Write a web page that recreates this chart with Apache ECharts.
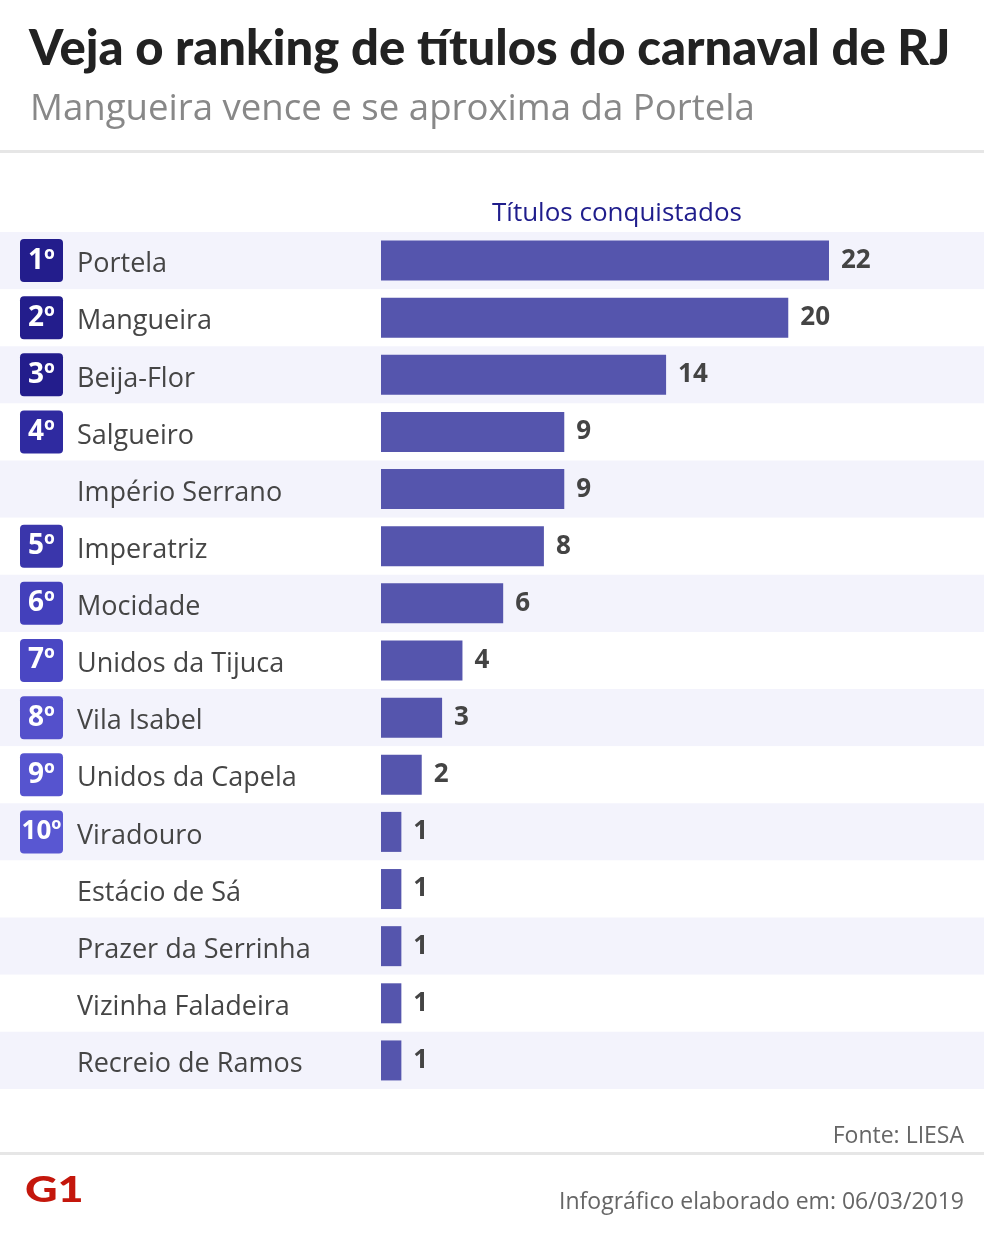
<!DOCTYPE html>
<html><head><meta charset="utf-8">
<script src="https://cdn.jsdelivr.net/npm/echarts@6/dist/echarts.min.js"></script>
<style>html,body{margin:0;padding:0;background:#fff}#c{width:984px;height:1245px}</style>
</head><body><div id="c"></div>
<script>
const schools = ["Portela","Mangueira","Beija-Flor","Salgueiro","Império Serrano","Imperatriz","Mocidade","Unidos da Tijuca","Vila Isabel","Unidos da Capela","Viradouro","Estácio de Sá","Prazer da Serrinha","Vizinha Faladeira","Recreio de Ramos"];
const ranks = ["1º","2º","3º","4º","","5º","6º","7º","8º","9º","10º","","","",""];
const titles = [22,20,14,9,9,8,6,4,3,2,1,1,1,1,1];
const badgeColors = ["#231d8c","#231d8c","#231d8c","#2f2aa0","","#3a36ab","#4340bb","#4a47c3","#5450cb","#5654cf","#5957d2","","","",""];

const FONT = "'Open Sans', 'Noto Sans', sans-serif";
const rich = {
  empty: {width: 43, height: 43},
  name: {fontFamily: FONT, fontSize: 27, color: '#454545', padding: [8,0,0,14]}
};
badgeColors.forEach((c,i)=>{
  if (c) rich['b'+i] = {backgroundColor: c, width: 43, height: 43, lineHeight: 43, borderRadius: 4,
    align: 'center', color: '#fff', fontFamily: FONT, fontWeight: 'bold', fontSize: ranks[i].length>2?26:28};
});

const chart = echarts.init(document.getElementById('c'), null, {renderer:'canvas'});
const gridTop = 232, gridBottom = 1245 - 1089;
const unit = (829 - 381) / 22;
const xMax = 26;
const gridRight = 984 - 381 - xMax*unit;

chart.setOption({
  animation: false,
  backgroundColor: '#fff',
  title: [
    {text: 'Veja o ranking de títulos do carnaval de RJ', left: 24, top: 20,
     textStyle: {fontFamily: "Lato, sans-serif", fontWeight: 900, fontSize: 49, color: '#222'}},
    {text: 'Mangueira vence e se aproxima da Portela', left: 25, top: 86,
     textStyle: {fontFamily: FONT, fontWeight: 'normal', fontSize: 36.6, color: '#888'}},
    {text: 'Títulos conquistados', left: 612, top: 196, textAlign: 'center',
     textStyle: {fontFamily: FONT, fontWeight: 'normal', fontSize: 26, color: '#1f1d8c'}},
    {text: 'Fonte: LIESA', right: 15, top: 1120,
     textStyle: {fontFamily: FONT, fontWeight: 'normal', fontSize: 23, color: '#666'}},
    {text: 'Infográfico elaborado em: 06/03/2019', right: 15, top: 1186,
     textStyle: {fontFamily: FONT, fontWeight: 'normal', fontSize: 23, color: '#666'}}
  ],
  graphic: [
    {type: 'rect', shape: {x: 0, y: 150, width: 984, height: 3}, style: {fill: '#e6e6e6'}},
    {type: 'rect', shape: {x: 0, y: 1152, width: 984, height: 3}, style: {fill: '#e6e6e6'}},
    {type: 'text', left: 25, top: 1172, scaleX: 1.25,
     style: {text: 'G1', fill: '#c4170c', font: "900 36px Lato, sans-serif"}}
  ],
  grid: [
    {left: 0, right: 0, top: gridTop, bottom: gridBottom},
    {left: 381, right: gridRight, top: gridTop, bottom: gridBottom}
  ],
  xAxis: [
    {gridIndex: 0, type: 'value', min: 0, max: 1, show: false},
    {gridIndex: 1, type: 'value', min: 0, max: xMax, show: false}
  ],
  yAxis: [
    {gridIndex: 0, type: 'category', data: schools, inverse: true,
     axisLine: {show: false}, axisTick: {show: false}, axisLabel: {show: false},
     splitLine: {show: false},
     splitArea: {show: true, areaStyle: {color: ['#f3f3fc', '#ffffff']}}},
    {gridIndex: 1, type: 'category', data: schools, inverse: true,
     axisLine: {show: false}, axisTick: {show: false},
     axisLabel: {
       margin: 361, align: 'left',
       formatter: (v, i) => (ranks[i] ? '{b'+i+'|'+ranks[i]+'}' : '{empty|}') + '{name|'+v+'}',
       rich: rich
     }}
  ],
  series: [
    {type: 'bar', xAxisIndex: 0, yAxisIndex: 0, data: schools.map(()=>0), silent: true},
    {type: 'bar', xAxisIndex: 1, yAxisIndex: 1, data: titles, barWidth: 40,
     itemStyle: {color: '#5555ad'},
     label: {show: true, position: 'right', distance: 12, fontFamily: FONT, fontWeight: 'bold',
             fontSize: 26, color: '#444'}}
  ]
});
</script></body></html>
